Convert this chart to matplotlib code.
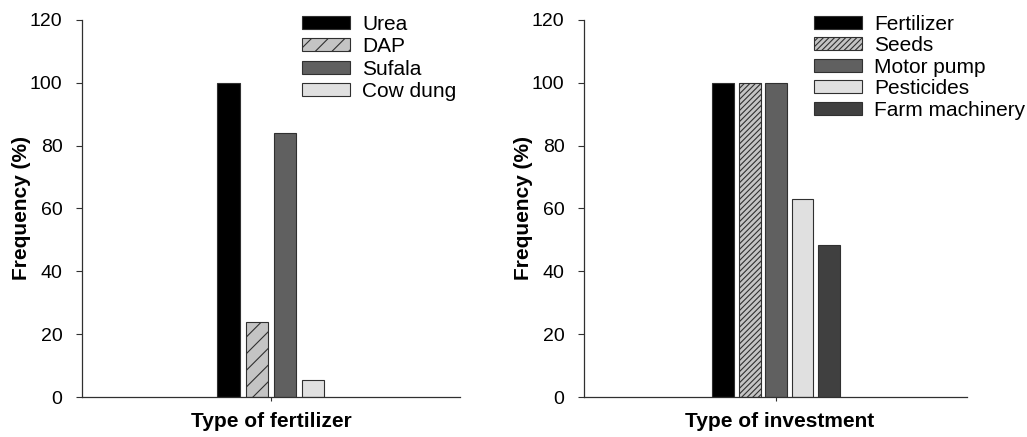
import numpy as np
import matplotlib
matplotlib.use('Agg')
import matplotlib.pyplot as plt

plt.rcParams['font.family'] = ['Liberation Sans', 'DejaVu Sans']
plt.rcParams['hatch.linewidth'] = 0.8

# Data
fert_names = ['Urea', 'DAP', 'Sufala', 'Cow dung']
fert_vals = [100, 24, 84, 5.5]
fert_colors = ['#000000', '#c4c4c4', '#606060', '#e0e0e0']
fert_hatch = [None, '//', None, None]

inv_names = ['Fertilizer', 'Seeds', 'Motor pump', 'Pesticides', 'Farm machinery']
inv_vals = [100, 100, 100, 63, 48.5]
inv_colors = ['#000000', '#c4c4c4', '#606060', '#e0e0e0', '#404040']
inv_hatch = [None, '//////', None, None, None]

yticks = [0, 20, 40, 60, 80, 100, 120]

fig = plt.figure(figsize=(10.27, 4.37), dpi=100)
ax1 = fig.add_axes([0.0798, 0.0915, 0.368, 0.863])
ax2 = fig.add_axes([0.5687, 0.0915, 0.3729, 0.863])


def draw(ax, names, vals, colors, hatches, width, xlim, xlabel, xlab_x, leg_x, lspace):
    x = np.arange(len(vals))
    for i in range(len(vals)):
        ax.bar(x[i], vals[i], width=width, color=colors[i], edgecolor='#303030',
               linewidth=0.8, hatch=hatches[i], label=names[i])
    ax.set_xlim(*xlim)
    ax.set_ylim(0, 120)
    ax.set_yticks(yticks)
    ax.set_xticks([x.mean()])
    ax.set_xticklabels([''])
    ax.tick_params(axis='x', direction='out', length=3, width=0.8, color='#303030')
    ax.tick_params(axis='y', direction='out', length=4, width=0.8,
                   labelsize=14, color='#303030', pad=10)
    for s in ['top', 'right']:
        ax.spines[s].set_visible(False)
    for s in ['left', 'bottom']:
        ax.spines[s].set_linewidth(0.9)
        ax.spines[s].set_color('#303030')
    ax.set_ylabel('Frequency (%)', fontsize=15, fontweight='bold', labelpad=-1)
    ax.set_xlabel(xlabel, fontsize=15, fontweight='bold', va='top')
    ax.xaxis.set_label_coords(xlab_x, -0.041)
    ax.legend(loc='upper left', bbox_to_anchor=(leg_x, 1.014), frameon=False,
              fontsize=15, handlelength=2.3, handleheight=0.6,
              handletextpad=0.58, labelspacing=lspace, borderpad=0, borderaxespad=0)


draw(ax1, fert_names, fert_vals, fert_colors, fert_hatch, 0.78, (-5.18, 8.18),
     'Type of fertilizer', 0.5, 0.582, 0.17)
draw(ax2, inv_names, inv_vals, inv_colors, inv_hatch, 0.83, (-5.27, 9.23),
     'Type of investment', 0.51, 0.60, 0.12)

fig.savefig('out.png', dpi=100)
